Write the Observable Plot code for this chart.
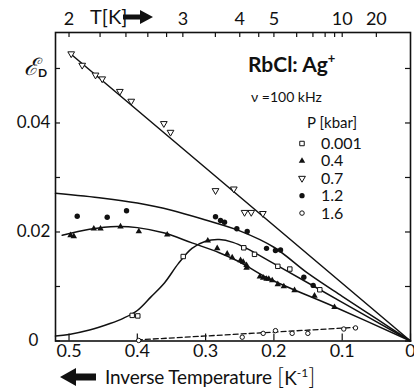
<!DOCTYPE html>
<html><head><meta charset="utf-8">
<script src="https://cdn.jsdelivr.net/npm/d3@7"></script>
<script src="https://cdn.jsdelivr.net/npm/@observablehq/plot@0.6"></script>
<style>
html,body{margin:0;padding:0;background:#fff;overflow:hidden}
#chart{width:414px;height:392px}
</style></head><body><div id="chart"></div>
<script>
// ---- data ----
const pressures = ["0.001", "0.4", "0.7", "1.2", "1.6"];

const p0001X = [0.4075,0.3993,0.3328,0.2441,0.2284,0.1943,0.1767,0.1328];
const p0001Y = [0.0047,0.0046,0.0155,0.0171,0.0159,0.0137,0.0132,0.0094];

const p04X = [0.4978,0.4930,0.4637,0.4539,0.4246,0.3978,0.3562,0.2968,0.2830,0.2684,0.2611,0.2489,0.2450,0.2401,0.2401,0.2206,0.2157,0.2108,0.2075,0.2025,0.1943,0.1855,0.1698,0.1406,0.1113];
const p04Y = [0.0194,0.0192,0.0206,0.0206,0.0210,0.0201,0.0195,0.0184,0.0170,0.0160,0.0153,0.0148,0.0145,0.0139,0.0134,0.0118,0.0116,0.0114,0.0114,0.0111,0.0104,0.0100,0.0093,0.0083,0.0062];

const p07X = [0.4968,0.4807,0.4612,0.4514,0.4256,0.4089,0.3612,0.3514,0.2855,0.2587,0.2430,0.2332,0.2162];
const p07Y = [0.0527,0.0506,0.0488,0.0481,0.0458,0.0440,0.0399,0.0383,0.0276,0.0279,0.0236,0.0236,0.0234];

const p12X = [0.4880,0.4441,0.4158,0.2855,0.2782,0.2723,0.2543,0.2391,0.2108,0.1977,0.1903,0.1562,0.1425];
const p12Y = [0.0229,0.0227,0.0239,0.0228,0.0221,0.0218,0.0206,0.0201,0.0170,0.0166,0.0167,0.0117,0.0102];

const p16X = [0.3980,0.2464,0.2157,0.1977,0.1733,0.1503,0.0977,0.0805];
const p16Y = [0.0001,0.0007,0.0014,0.0019,0.0014,0.0014,0.0022,0.0024];

// fitted curves (as drawn in the figure)
const fit0001X = [0.5198,0.50,0.47,0.44,0.42,0.40,0.38,0.36,0.34,0.32,0.30,0.28,0.26,0.24,0.20,0.10,0];
const fit0001Y = [0.0009,0.0012,0.0020,0.0032,0.0042,0.0056,0.0081,0.0107,0.0142,0.0170,0.0183,0.0186,0.0181,0.0170,0.0142,0.0071,0];
const fit04X = [0.51,0.47,0.43,0.40,0.36,0.32,0.28,0.25,0.21,0.11,0];
const fit04Y = [0.0194,0.0205,0.0210,0.0208,0.0198,0.0180,0.0162,0.0145,0.0116,0.0062,0];
const fit07X = [0.497,0];
const fit07Y = [0.0526,0];
const fit12X = [0.5198,0.45,0.40,0.35,0.30,0.25,0.20,0.15,0.10,0.05,0];
const fit12Y = [0.0271,0.0262,0.0253,0.0240,0.0222,0.0202,0.0172,0.0124,0.0082,0.0041,0];
const fit16X = [0.40,0.08];
const fit16Y = [0.0002,0.0025];

// axes
const invTicks = [0.5,0.4,0.3,0.2,0.1,0];
const yLabelTicks = [0,0.02,0.04];
const yMinorTicks = [0,0.01,0.02,0.03,0.04,0.05];
const tempTicks = [2,2.2,2.4,2.6,2.8,3,3.5,4,4.5,5,6,7,8,9,10,20];
const tempLabels = [2,3,4,5,10,20];

// ---- build ----
const pts = (xs, ys) => xs.map((x, i) => ({x, y: ys[i]}));
const W = 414, H = 392, mL = 55, mR = 4, mT = 32, mB = 51.5;
const plotH = H - mT - mB, plotW = W - mL - mR;
const ink = "#111";
const font = "Lato, 'Open Sans', sans-serif";

const chart = Plot.plot({
  width: W, height: H,
  marginLeft: mL, marginRight: mR, marginTop: mT, marginBottom: mB,
  x: {domain: [0.5198, 0], axis: null},
  y: {domain: [0, 0.0566], axis: null},
  style: {fontFamily: font, fontSize: "17px", color: ink, background: "#fff"},
  marks: [
    Plot.frame({stroke: ink, strokeWidth: 1.6}),
    // inward ticks
    Plot.tickX(invTicks, {x: d => d, insetTop: plotH - 7, stroke: ink, strokeWidth: 1.2}),
    Plot.tickX(tempTicks, {x: d => 1 / d, insetBottom: plotH - 5, stroke: ink, strokeWidth: 1.2}),
    Plot.tickY(yMinorTicks, {y: d => d, insetRight: plotW - 5, stroke: ink, strokeWidth: 1.2}),
    Plot.tickY(yMinorTicks, {y: d => d, insetLeft: plotW - 5, stroke: ink, strokeWidth: 1.2}),
    // tick labels
    Plot.axisX(invTicks, {anchor: "bottom", label: null, tickSize: 0, tickPadding: 3, fontSize: 18,
      tickFormat: d => d === 0 ? "0" : String(d)}),
    Plot.axisX(tempLabels.map(t => 1 / t), {anchor: "top", label: null, tickSize: 0, tickPadding: 8, fontSize: 18,
      tickFormat: d => String(Math.round(1 / d))}),
    Plot.axisY(yLabelTicks, {anchor: "left", label: null, tickSize: 0, tickPadding: 22, textAnchor: "middle", fontSize: 17,
      tickFormat: d => d === 0 ? "0" : d.toFixed(2)}),
    // fitted curves
    Plot.line(pts(fit07X, fit07Y), {x: "x", y: "y", stroke: ink, strokeWidth: 1.5}),
    Plot.line(pts(fit12X, fit12Y), {x: "x", y: "y", stroke: ink, strokeWidth: 1.5, curve: "catmull-rom"}),
    Plot.line(pts(fit04X, fit04Y), {x: "x", y: "y", stroke: ink, strokeWidth: 1.5, curve: "catmull-rom"}),
    Plot.line(pts(fit0001X, fit0001Y), {x: "x", y: "y", stroke: ink, strokeWidth: 1.5, curve: "catmull-rom"}),
    Plot.line(pts(fit16X, fit16Y), {x: "x", y: "y", stroke: ink, strokeWidth: 1.3, strokeDasharray: "5,3"}),
    // data points
    Plot.dot(pts(p0001X, p0001Y), {x: "x", y: "y", symbol: "square", r: 2.5, stroke: ink, fill: "#fff", strokeWidth: 1}),
    Plot.dot(pts(p04X, p04Y), {x: "x", y: "y", symbol: "triangle", r: 2.4, fill: ink, stroke: "none"}),
    Plot.dot(pts(p07X, p07Y), {x: "x", y: "y", symbol: "triangle", rotate: 180, r: 2.5, stroke: ink, fill: "#fff", strokeWidth: 1}),
    Plot.dot(pts(p12X, p12Y), {x: "x", y: "y", symbol: "circle", r: 2.7, fill: ink, stroke: "none"}),
    Plot.dot(pts(p16X, p16Y), {x: "x", y: "y", symbol: "circle", r: 2.2, stroke: ink, fill: "#fff", strokeWidth: 1})
  ]
});
document.getElementById("chart").appendChild(chart);

// ---- annotations & legend ----
const svg = d3.select(chart);
const g = svg.append("g").attr("fill", ink).attr("text-anchor", "start").style("font-family", font);

// y label: script E with subscript D
const yl = g.append("text").attr("x", 24).attr("y", 75).style("font-size", "24px").style("font-family", "'DejaVu Serif', serif").style("font-style", "italic").text("ℰ");
yl.append("tspan").attr("dy", 2).style("font-size", "12px").style("font-family", font).style("font-style", "normal").style("font-weight", 700).text("D");

// top label T[K] with arrow
g.append("text").attr("x", 90).attr("y", 24).style("font-size", "20px").text("T[K]");
g.append("path").attr("d", "M123,14.5 H140 V10 L153,17 L140,24 V19.5 H123 Z");

// bottom label with arrow
g.append("path").attr("d", "M60,377 L76,368 V373.5 H96 V380.5 H76 V386 Z");
g.append("text").attr("x", 105).attr("y", 384).style("font-size", "19px").attr("textLength", 167).text("Inverse Temperature");
const kt = g.append("text").attr("x", 277).attr("y", 385).style("font-size", "19px");
kt.append("tspan").style("font-size", "24px").style("font-weight", 300).text("[");
kt.append("tspan").text("K");
kt.append("tspan").attr("dy", -8).style("font-size", "12px").text("-1");
kt.append("tspan").attr("dy", 8).style("font-size", "24px").style("font-weight", 300).text("]");

// title block
const t = g.append("text").attr("x", 248).attr("y", 72).style("font-size", "21px").style("font-weight", 700).text("RbCl: Ag");
t.append("tspan").attr("dy", -9).style("font-size", "13px").text("+");
g.append("text").attr("x", 251).attr("y", 102).style("font-size", "14px").text("ν =100 kHz");
g.append("text").attr("x", 307).attr("y", 128).style("font-size", "15px").text("P [kbar]");

// legend
const legSym = [
  {sym: d3.symbolSquare, size: 20, fill: "#fff", stroke: ink, rot: 0},
  {sym: d3.symbolTriangle, size: 18, fill: ink, stroke: "none", rot: 0},
  {sym: d3.symbolTriangle, size: 20, fill: "#fff", stroke: ink, rot: 180},
  {sym: d3.symbolCircle, size: 22, fill: ink, stroke: "none", rot: 0},
  {sym: d3.symbolCircle, size: 16, fill: "#fff", stroke: ink, rot: 0}
];
pressures.forEach((p, i) => {
  const cy = 143.5 + i * 17.4;
  const s = legSym[i];
  g.append("path").attr("d", d3.symbol(s.sym, s.size)())
    .attr("transform", `translate(302,${cy}) rotate(${s.rot})`)
    .attr("fill", s.fill).attr("stroke", s.stroke).attr("stroke-width", 1);
  g.append("text").attr("x", 321).attr("y", cy + 5.5).style("font-size", "16px").text(p);
});
</script></body></html>
